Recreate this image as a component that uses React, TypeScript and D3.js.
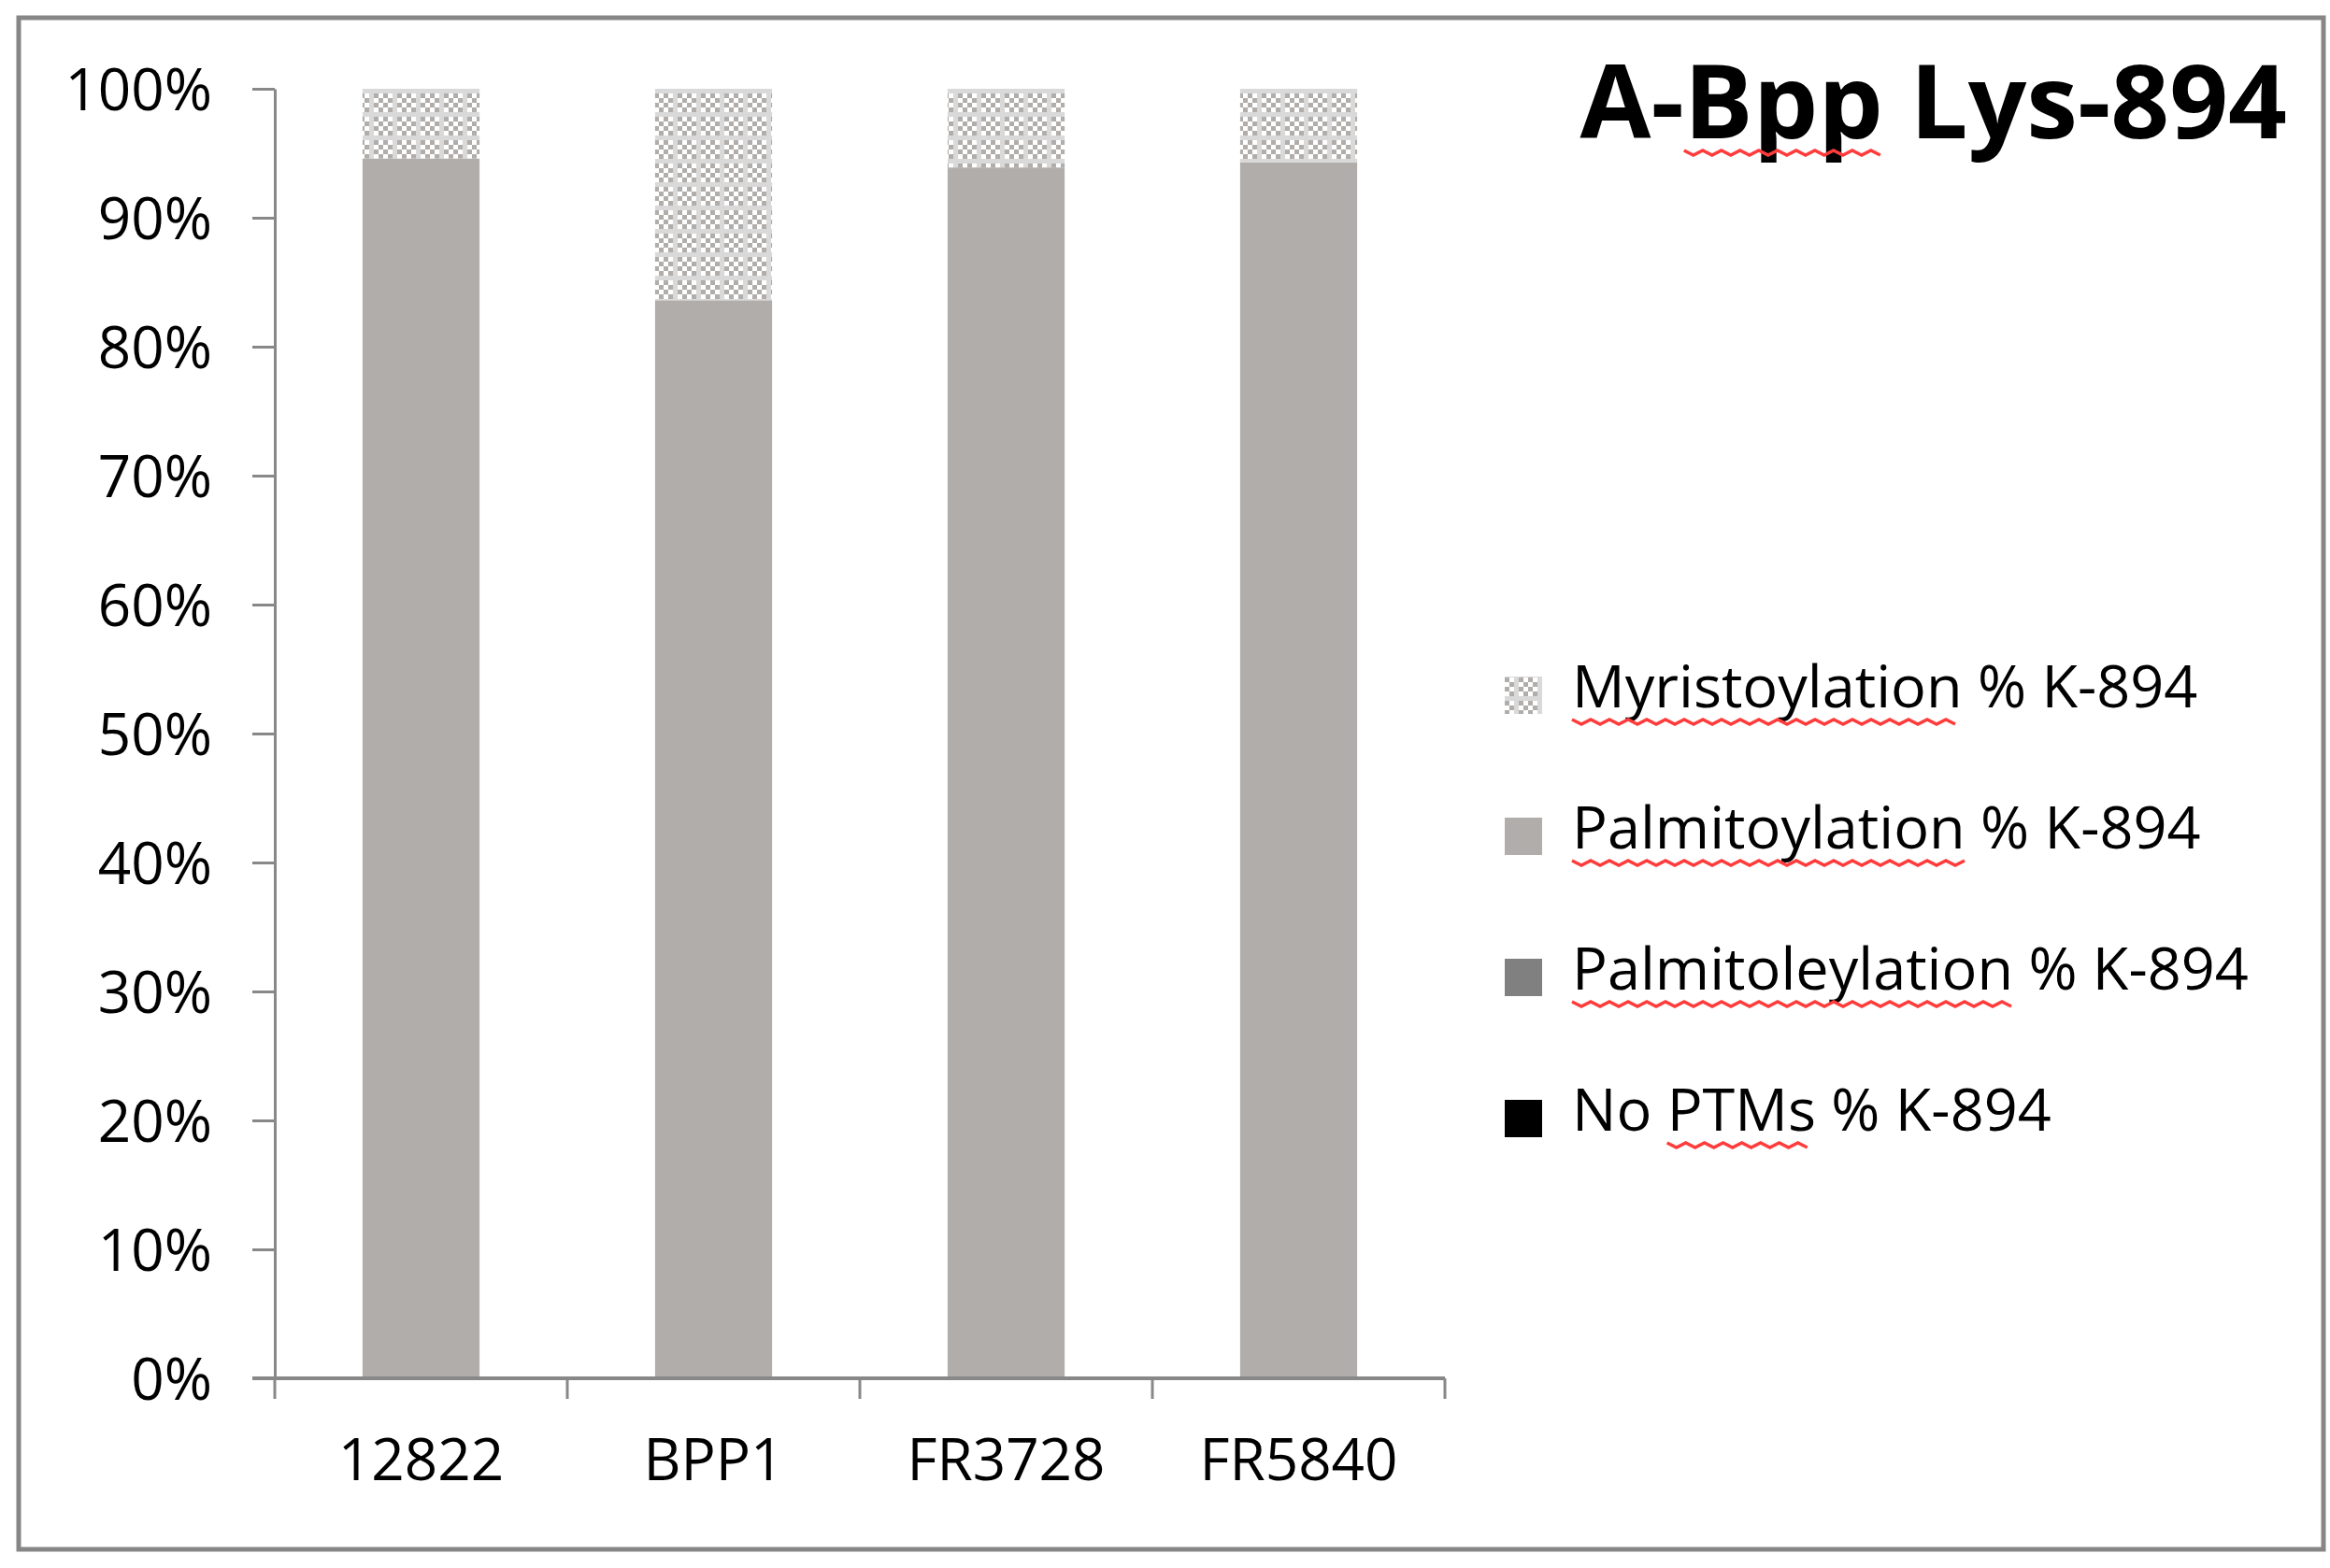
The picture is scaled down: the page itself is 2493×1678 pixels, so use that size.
import React, { useEffect, useRef } from 'react';
import * as d3 from 'd3';

// chart values
const categories = ['12822', 'BPP1', 'FR3728', 'FR5840'];
const noPtms = [0, 0, 0, 0];
const palmitoleylation = [0, 0, 0, 0];
const palmitoylation = [94.6, 83.6, 93.9, 94.3];
const myristoylation = [5.4, 16.4, 6.1, 5.7];
const yTicks = [0, 10, 20, 30, 40, 50, 60, 70, 80, 90, 100];
const seriesKeys = ['noPtms', 'palmitoleylation', 'palmitoylation', 'myristoylation'];
const seriesLabels = ['No PTMs % K-894', 'Palmitoleylation % K-894', 'Palmitoylation % K-894', 'Myristoylation % K-894'];
const chartTitle = 'A-Bpp Lys-894';

const W = 2493;
const H = 1678;
const FONT = '"Open Sans", "Noto Sans", sans-serif';

const App: React.FC = () => {
  const svgRef = useRef<SVGSVGElement | null>(null);

  useEffect(() => {
    if (!svgRef.current) return;
    const svg = d3.select(svgRef.current);
    svg.selectAll('*').remove();

    const margin = { top: 95, right: 947, bottom: 203, left: 294 };
    const x0 = margin.left;
    const x1 = W - margin.right;
    const yBottom = H - margin.bottom;

    const rows = categories.map((c, i) => ({
      cat: c,
      noPtms: noPtms[i],
      palmitoleylation: palmitoleylation[i],
      palmitoylation: palmitoylation[i],
      myristoylation: myristoylation[i],
    }));
    const stacked = d3.stack<any>().keys(seriesKeys)(rows);

    const x = d3.scaleBand().domain(categories).range([x0, x1]).paddingInner(0.6).paddingOuter(0.3);
    const y = d3.scaleLinear().domain([0, 100]).range([yBottom, margin.top]);

    // fill pattern for myristoylation (checker + light grid)
    const defs = svg.append('defs');
    const pat = defs.append('pattern')
      .attr('id', 'myrPat')
      .attr('patternUnits', 'userSpaceOnUse')
      .attr('width', 25)
      .attr('height', 25);
    pat.append('rect').attr('width', 25).attr('height', 25).attr('fill', '#ffffff');
    d3.range(25).forEach(k => {
      const i = k % 5, j = Math.floor(k / 5);
      if ((i + j) % 2 === 0) {
        pat.append('rect').attr('x', i * 5).attr('y', j * 5).attr('width', 5).attr('height', 5).attr('fill', '#b0adab');
      }
    });
    pat.append('rect').attr('x', 0).attr('y', 20).attr('width', 25).attr('height', 5).attr('fill', '#d9d9d9');
    pat.append('rect').attr('x', 20).attr('y', 0).attr('width', 5).attr('height', 25).attr('fill', '#d9d9d9');

    const fills: Record<string, string> = {
      noPtms: '#000000',
      palmitoleylation: '#808080',
      palmitoylation: '#b0adab',
      myristoylation: 'url(#myrPat)',
    };

    // outer frame
    svg.append('rect')
      .attr('x', 20).attr('y', 19).attr('width', 2466).attr('height', 1639)
      .attr('fill', '#ffffff').attr('stroke', '#868686').attr('stroke-width', 5);

    // bars
    svg.append('g')
      .selectAll('g')
      .data(stacked)
      .join('g')
      .attr('fill', d => fills[d.key])
      .selectAll('rect')
      .data(d => d)
      .join('rect')
      .attr('x', d => x(d.data.cat) || 0)
      .attr('width', x.bandwidth())
      .attr('y', d => y(d[1]))
      .attr('height', d => y(d[0]) - y(d[1]));

    // y axis
    const yAxis = svg.append('g')
      .attr('transform', `translate(${x0},0)`)
      .call(d3.axisLeft(y).tickValues(yTicks).tickSize(24).tickSizeOuter(0).tickPadding(43).tickFormat(d => `${d}%`));
    yAxis.select('.domain').attr('stroke', '#888888').attr('stroke-width', 3);
    yAxis.selectAll('.tick line').attr('stroke', '#888888').attr('stroke-width', 3);
    yAxis.selectAll('.tick text')
      .attr('fill', '#000000')
      .attr('dy', '0.36em')
      .style('font-family', FONT)
      .style('font-size', '62px');

    // x axis
    const xa = svg.append('g');
    xa.append('line')
      .attr('x1', x0 - 24).attr('x2', x1)
      .attr('y1', yBottom).attr('y2', yBottom)
      .attr('stroke', '#888888').attr('stroke-width', 4);
    xa.selectAll('line.tk')
      .data(d3.range(categories.length + 1))
      .join('line')
      .attr('class', 'tk')
      .attr('x1', i => x0 + i * x.step())
      .attr('x2', i => x0 + i * x.step())
      .attr('y1', yBottom)
      .attr('y2', yBottom + 22)
      .attr('stroke', '#888888').attr('stroke-width', 3);
    xa.selectAll('text')
      .data(categories)
      .join('text')
      .attr('x', d => (x(d) || 0) + x.bandwidth() / 2)
      .attr('y', 1584)
      .attr('text-anchor', 'middle')
      .attr('fill', '#000000')
      .style('font-family', FONT)
      .style('font-size', '62px')
      .text(d => d);

    // title
    const titleText = svg.append('text')
      .attr('x', 2447).attr('y', 148)
      .attr('text-anchor', 'end')
      .attr('fill', '#000000')
      .style('font-family', FONT)
      .style('font-size', '110px')
      .style('font-weight', 700)
      .text(chartTitle);

    // legend (top to bottom: reverse stacking order)
    const legendItems = seriesKeys.map((k, i) => ({ key: k, label: seriesLabels[i] })).reverse();
    const lg = svg.append('g');
    const legendTexts: SVGTextElement[] = [];
    legendItems.forEach((item, i) => {
      const cy = 744 + i * 151;
      lg.append('rect')
        .attr('x', 1610).attr('y', cy - 20)
        .attr('width', 40).attr('height', 40)
        .attr('fill', fills[item.key]);
      const t = lg.append('text')
        .attr('x', 1682).attr('y', cy + 13)
        .attr('fill', '#000000')
        .style('font-family', FONT)
        .style('font-size', '63px')
        .text(item.label);
      legendTexts.push(t.node() as SVGTextElement);
    });

    // red spell-check squiggles under some words
    const squiggles: { el: SVGTextElement; from: number; to: number }[] = [
      { el: titleText.node() as SVGTextElement, from: 2, to: 5 },
      { el: legendTexts[0], from: 0, to: 14 },
      { el: legendTexts[1], from: 0, to: 14 },
      { el: legendTexts[2], from: 0, to: 16 },
      { el: legendTexts[3], from: 3, to: 7 },
    ];
    const sq = svg.append('g');
    const drawSquiggles = () => {
      sq.selectAll('*').remove();
      squiggles.forEach(s => {
        const a = s.el.getStartPositionOfChar(s.from);
        const b = s.el.getEndPositionOfChar(s.to - 1);
        const yb = a.y + 13;
        const pts: [number, number][] = [];
        let k = 0;
        for (let px = a.x; px <= b.x; px += 10) {
          pts.push([px, k % 2 === 0 ? yb : yb + 5]);
          k++;
        }
        sq.append('path')
          .attr('d', d3.line()(pts))
          .attr('fill', 'none')
          .attr('stroke', '#ff3b3b')
          .attr('stroke-width', 3.5);
      });
    };
    drawSquiggles();
    if ((document as any).fonts) (document as any).fonts.ready.then(drawSquiggles);
  }, []);

  return (
    <svg
      ref={svgRef}
      width={W}
      height={H}
      viewBox={`0 0 ${W} ${H}`}
      style={{ position: 'absolute', left: 0, top: 0, background: '#ffffff' }}
    />
  );
};

export default App;
